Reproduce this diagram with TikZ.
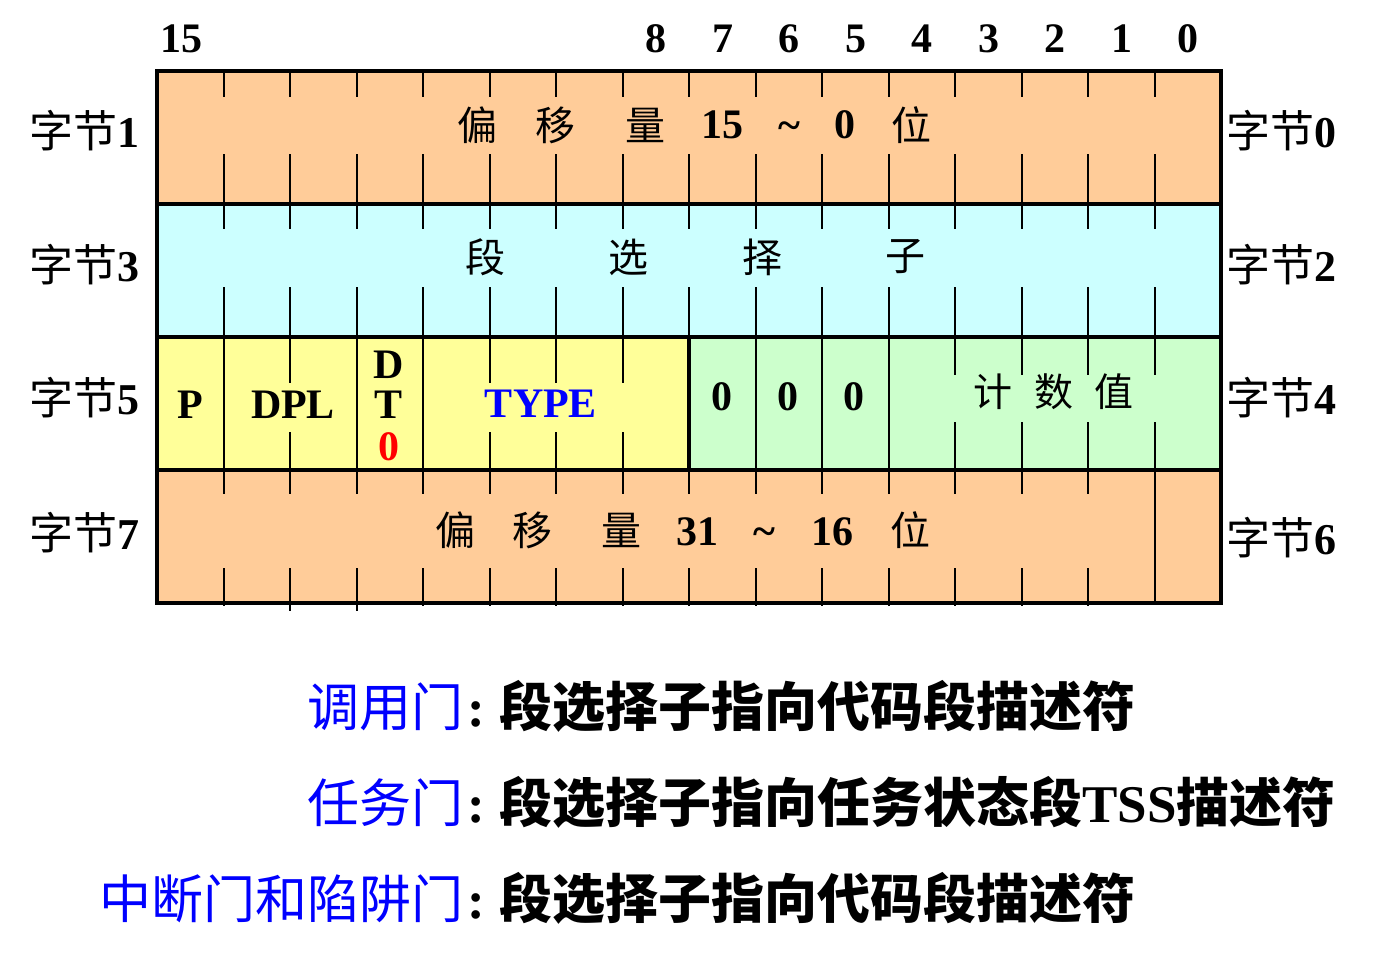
\documentclass[tikz,border=0pt]{standalone}
\usepackage{fontspec}
\setmainfont{Liberation Serif}
\newfontfamily\cjk{Noto Sans CJK SC}
\definecolor{peach}{RGB}{255,204,153}
\definecolor{lcyan}{RGB}{204,255,255}
\definecolor{lyellow}{RGB}{255,255,153}
\definecolor{lgreen}{RGB}{204,255,204}
\definecolor{pblue}{RGB}{0,0,255}
\definecolor{pred}{RGB}{255,0,0}
\begin{document}
\begin{tikzpicture}[x=1pt,y=-1pt,
  border/.style={line width=4pt,line cap=rect},
  tickline/.style={line width=2pt},
  cjktext/.style={inner sep=0pt,font=\cjk\fontsize{40}{44}\selectfont},
  numtext/.style={inner sep=0pt,font=\bfseries\fontsize{42}{46}\selectfont},
  sidelbl/.style={inner sep=0pt,font=\fontsize{44}{48}\selectfont},
  gatelbl/.style={inner sep=0pt,anchor=base east,text=pblue,font=\cjk\fontsize{52}{56}\selectfont},
  colonlbl/.style={inner sep=0pt,anchor=base west,font=\bfseries\fontsize{53}{56}\selectfont},
  desclbl/.style={inner sep=0pt,anchor=base west,font=\cjk\bfseries\fontsize{53}{56}\selectfont}]
\useasboundingbox (0,0) rectangle (1392,975);
% fills
\fill[peach] (157,70.5) rectangle (1221,203.5);
\fill[lcyan] (157,203.5) rectangle (1221,336.5);
\fill[lyellow] (157,336.5) rectangle (689,469.5);
\fill[lgreen] (689,336.5) rectangle (1221,469.5);
\fill[peach] (157,469.5) rectangle (1221,602.5);
% rows 1 and 2 ticks
\foreach \k in {1,...,15} {
  \draw[tickline] ({157+66.5*\k},70.5) -- ({157+66.5*\k},97);
  \draw[tickline] ({157+66.5*\k},154) -- ({157+66.5*\k},203.5);
  \draw[tickline] ({157+66.5*\k},203.5) -- ({157+66.5*\k},229);
  \draw[tickline] ({157+66.5*\k},287) -- ({157+66.5*\k},336.5);
}
% row 3 ticks
\foreach \k in {1,3,4,9,10,11} {
  \draw[tickline] ({157+66.5*\k},336.5) -- ({157+66.5*\k},469.5);
}
\foreach \k in {2,5,6,7} {
  \draw[tickline] ({157+66.5*\k},336.5) -- ({157+66.5*\k},383);
  \draw[tickline] ({157+66.5*\k},432) -- ({157+66.5*\k},469.5);
}
\foreach \k in {12,13,14,15} {
  \draw[tickline] ({157+66.5*\k},336.5) -- ({157+66.5*\k},375);
  \draw[tickline] ({157+66.5*\k},422) -- ({157+66.5*\k},469.5);
}
% row 4 ticks
\foreach \k in {1,...,14} {
  \draw[tickline] ({157+66.5*\k},469.5) -- ({157+66.5*\k},494);
  \draw[tickline] ({157+66.5*\k},568) -- ({157+66.5*\k},606);
}
\foreach \k in {2,3} {
  \draw[tickline] ({157+66.5*\k},600) -- ({157+66.5*\k},611);
}
\draw[tickline] (1154.5,469.5) -- (1154.5,602.5);
% borders
\draw[border] (157,70.5) rectangle (1221,602.5);
\draw[border] (157,203.5) -- (1221,203.5);
\draw[border] (157,336.5) -- (1221,336.5);
\draw[border] (157,469.5) -- (1221,469.5);
\draw[border] (689,336.5) -- (689,469.5);
% bit numbers
\node[numtext] (b15) at (181,39) {15};
\node[numtext] (b8) at (656,39) {8};
\node[numtext] (b7) at (723,39) {7};
\node[numtext] (b6) at (789,39) {6};
\node[numtext] (b5) at (856,39) {5};
\node[numtext] (b4) at (922,39) {4};
\node[numtext] (b3) at (989,39) {3};
\node[numtext] (b2) at (1055,39) {2};
\node[numtext] (b1) at (1122,39) {1};
\node[numtext] (b0) at (1188,39) {0};
% row 1
\node[cjktext] (r1a) at (477,125) {偏};
\node[cjktext] (r1b) at (555,125) {移};
\node[cjktext] (r1c) at (645,125) {量};
\node[numtext] (r1d) at (722,125) {15};
\node[numtext] (r1e) at (789,131) {\textasciitilde};
\node[numtext] (r1f) at (845,125) {0};
\node[cjktext] (r1g) at (911,125) {位};
% row 2
\node[cjktext] (r2a) at (485,257) {段};
\node[cjktext] (r2b) at (628,257) {选};
\node[cjktext] (r2c) at (762,257) {择};
\node[cjktext] (r2d) at (905,257) {子};
% row 3
\node[numtext] (fp) at (190,405) {P};
\node[numtext] (fdpl) at (293,405) {DPL};
\node[numtext] (fd) at (389,365) {D};
\node[numtext] (ft) at (389,405) {T};
\node[numtext,text=pred] (fz) at (389,447) {0};
\node[numtext,text=pblue] (ftype) at (541,404) {TYPE};
\node[numtext] (z1) at (722,397) {0};
\node[numtext] (z2) at (788,397) {0};
\node[numtext] (z3) at (854,397) {0};
\node[cjktext,font=\cjk\fontsize{39}{42}\selectfont] (cnta) at (993,392) {计};
\node[cjktext,font=\cjk\fontsize{39}{42}\selectfont] (cntb) at (1054,392) {数};
\node[cjktext,font=\cjk\fontsize{39}{42}\selectfont] (cntc) at (1114,392) {值};
% row 4
\node[cjktext] (r4a) at (455,530) {偏};
\node[cjktext] (r4b) at (532,530) {移};
\node[cjktext] (r4c) at (621,530) {量};
\node[numtext] (r4d) at (697,532) {31};
\node[numtext] (r4e) at (764,537) {\textasciitilde};
\node[numtext] (r4f) at (832,532) {16};
\node[cjktext] (r4g) at (910,530) {位};
% side labels
\node[sidelbl] (L1) at (84,131) {{\cjk 字节}\textbf{1}};
\node[sidelbl] (L3) at (84,265) {{\cjk 字节}\textbf{3}};
\node[sidelbl] (L5) at (84,398) {{\cjk 字节}\textbf{5}};
\node[sidelbl] (L7) at (84,533) {{\cjk 字节}\textbf{7}};
\node[sidelbl] (R0) at (1281,131) {{\cjk 字节}\textbf{0}};
\node[sidelbl] (R2) at (1281,265) {{\cjk 字节}\textbf{2}};
\node[sidelbl] (R4) at (1281,398) {{\cjk 字节}\textbf{4}};
\node[sidelbl] (R6) at (1281,538) {{\cjk 字节}\textbf{6}};
% bottom lines
\node[gatelbl] (g1) at (464,726) {调用门};
\node[colonlbl] (c1) at (467,726) {:};
\node[desclbl] (d1) at (499,726) {段选择子指向代码段描述符};
\node[gatelbl] (g2) at (464,822) {任务门};
\node[colonlbl] (c2) at (467,822) {:};
\node[desclbl] (d2) at (499,822) {段选择子指向任务状态段{\rmfamily\bfseries TSS}描述符};
\node[gatelbl] (g3) at (464,918) {中断门和陷阱门};
\node[colonlbl] (c3) at (467,918) {:};
\node[desclbl] (d3) at (499,918) {段选择子指向代码段描述符};
\end{tikzpicture}
\end{document}
